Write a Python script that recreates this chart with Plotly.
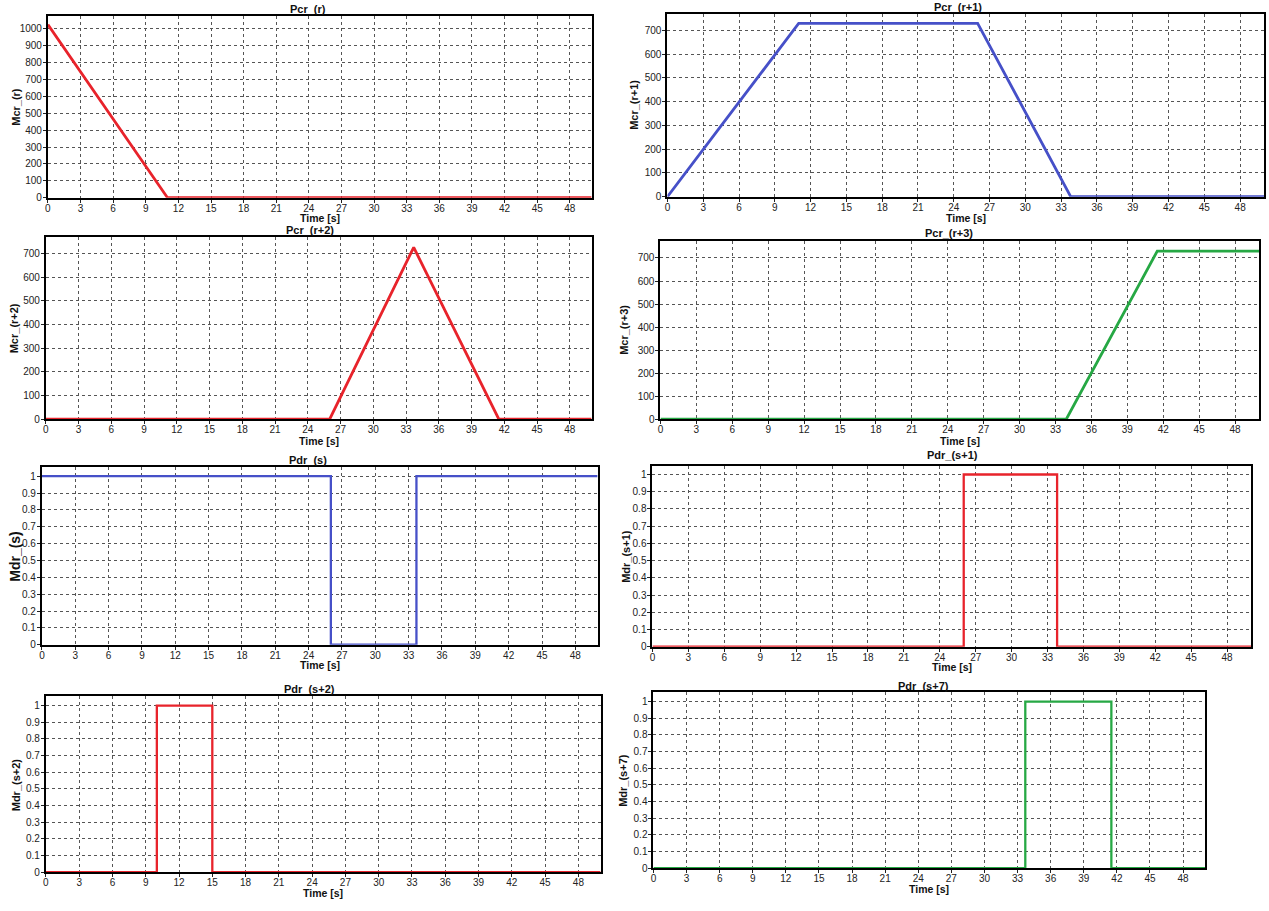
import plotly.graph_objects as go

# ---------------- data ----------------
t_r = [0, 11, 50]
mcr_r = [1025, 0, 0]

t_r1 = [0, 11, 26, 33.8, 50]
mcr_r1 = [0, 730, 730, 0, 0]

t_r2 = [0, 26, 33.7, 41.5, 50]
mcr_r2 = [0, 0, 725, 0, 0]

t_r3 = [0, 33.9, 41.5, 50]
mcr_r3 = [0, 0, 730, 730]

t_s = [0, 26, 33.7, 50]
mdr_s = [1, 0, 1, 1]

t_s1 = [0, 26, 33.8, 50]
mdr_s1 = [0, 1, 0, 0]

t_s2 = [0, 10, 15, 50]
mdr_s2 = [0, 1, 0, 0]

t_s7 = [0, 33.7, 41.5, 50]
mdr_s7 = [0, 1, 0, 0]

x_ticks = list(range(0, 49, 3))
mcr_ticks_big = list(range(0, 1001, 100))
mcr_ticks = list(range(0, 701, 100))
mdr_ticks = [round(i * 0.1, 1) for i in range(11)]
mdr_ticktext = ["0"] + [f"{v:.1f}" for v in mdr_ticks[1:-1]] + ["1"]

RED = "#e8232b"
BLUE = "#4650c8"
GREEN = "#26a844"

W, H = 1269, 911

# panel layout in pixels: (x0, x1, ytop, ybottom)
panels = [
    dict(t=t_r, v=mcr_r, c=RED, lw=2.8, title="Pcr_(r)", ylab="Mcr_(r)",
         box=(45, 590, 16, 199), yr=[0, 1076], yt=mcr_ticks_big, ytt=None,
         tx=306, ty=9, xt=219, yx=13, yfs=11),
    dict(t=t_r1, v=mcr_r1, c=BLUE, lw=2.8, title="Pcr_(r+1)", ylab="Mcr_(r+1)",
         box=(666, 1264, 14, 198), yr=[0, 770], yt=mcr_ticks, ytt=None,
         tx=957, ty=7, xt=219, yx=633, yfs=11),
    dict(t=t_r2, v=mcr_r2, c=RED, lw=2.8, title="Pcr_(r+2)", ylab="Mcr_(r+2)",
         box=(43, 590, 239, 422), yr=[0, 767], yt=mcr_ticks, ytt=None,
         tx=308, ty=232, xt=444, yx=11, yfs=11),
    dict(t=t_r3, v=mcr_r3, c=GREEN, lw=2.8, title="Pcr_(r+3)", ylab="Mcr_(r+3)",
         box=(659, 1259, 243, 422), yr=[0, 772], yt=mcr_ticks, ytt=None,
         tx=948, ty=235, xt=444, yx=623, yfs=11),
    dict(t=t_s, v=mdr_s, c=BLUE, lw=2.3, title="Pdr_(s)", ylab="Mdr_(s)",
         box=(39, 596, 470, 649), yr=[0, 1.055], yt=mdr_ticks, ytt=mdr_ticktext,
         tx=306, ty=463, xt=669, yx=12, yfs=14),
    dict(t=t_s1, v=mdr_s1, c=RED, lw=2.3, title="Pdr_(s+1)", ylab="Mdr_(s+1)",
         box=(651, 1251, 469, 651), yr=[0, 1.05], yt=mdr_ticks, ytt=mdr_ticktext,
         tx=952, ty=458, xt=671, yx=625, yfs=11),
    dict(t=t_s2, v=mdr_s2, c=RED, lw=2.3, title="Pdr_(s+2)", ylab="Mdr_(s+2)",
         box=(43, 599, 701, 878), yr=[0, 1.055], yt=mdr_ticks, ytt=mdr_ticktext,
         tx=307, ty=694, xt=899, yx=13, yfs=11),
    dict(t=t_s7, v=mdr_s7, c=GREEN, lw=2.3, title="Pdr_(s+7)", ylab="Mdr_(s+7)",
         box=(652, 1205, 697, 874), yr=[0, 1.055], yt=mdr_ticks, ytt=mdr_ticktext,
         tx=923, ty=691, xt=895, yx=622, yfs=11),
]

FONT = "Liberation Sans, Arial, sans-serif"

fig = go.Figure()
layout = dict(
    width=W, height=H, autosize=False,
    margin=dict(l=0, r=0, t=0, b=0),
    paper_bgcolor="white", plot_bgcolor="white",
    showlegend=False,
    font=dict(family=FONT, size=10, color="#222"),
)
annotations = []

for i, p in enumerate(panels, start=1):
    xa = "x" if i == 1 else f"x{i}"
    ya = "y" if i == 1 else f"y{i}"
    shape = "hv" if p["title"].startswith("Pdr") else "linear"
    fig.add_trace(go.Scatter(
        x=p["t"], y=p["v"], mode="lines", xaxis=xa, yaxis=ya,
        line=dict(color=p["c"], width=p["lw"], shape=shape),
        hoverinfo="x+y", cliponaxis=True,
    ))
    x0, x1, yt, yb = p["box"]
    common = dict(
        showline=True, mirror=True, linecolor="black", linewidth=2,
        ticks="outside", ticklen=3, tickcolor="#222", tickwidth=1,
        showgrid=True, gridcolor="#555", griddash="dot", gridwidth=1,
        zeroline=False, tickfont=dict(family=FONT, size=10, color="#222"),
    )
    layout["xaxis" if i == 1 else f"xaxis{i}"] = dict(
        domain=[x0 / W, x1 / W], anchor=ya, range=[0, 50],
        tickmode="array", tickvals=x_ticks, ticklabelstandoff=-3, **common,
    )
    yax = dict(
        domain=[1 - yb / H, 1 - yt / H], anchor=xa, range=p["yr"],
        tickmode="array", tickvals=p["yt"], ticklabelstandoff=-1, **common,
    )
    if p["ytt"] is not None:
        yax["ticktext"] = p["ytt"]
    layout["yaxis" if i == 1 else f"yaxis{i}"] = yax

    # title
    annotations.append(dict(
        text=f"<b>{p['title']}</b>", x=p["tx"] / W, y=1 - p["ty"] / H,
        xref="paper", yref="paper", xanchor="center", yanchor="middle",
        showarrow=False, font=dict(family=FONT, size=11, color="#111"),
    ))
    # x-axis title
    annotations.append(dict(
        text="<b>Time [s]</b>", x=((x0 + x1) / 2) / W, y=1 - p["xt"] / H,
        xref="paper", yref="paper", xanchor="center", yanchor="middle",
        showarrow=False, font=dict(family=FONT, size=10.5, color="#111"),
    ))
    # y-axis title
    annotations.append(dict(
        text=f"<b>{p['ylab']}</b>", x=p["yx"] / W, y=1 - ((yt + yb) / 2) / H,
        xref="paper", yref="paper", xanchor="center", yanchor="middle",
        textangle=-90, showarrow=False,
        font=dict(family=FONT, size=p["yfs"], color="#111"),
    ))

layout["annotations"] = annotations
fig.update_layout(**layout)
fig.write_html(
    "out.html",
    config={"displayModeBar": False},
    post_script="document.body.style.margin='0';document.body.style.overflow='hidden';",
)
